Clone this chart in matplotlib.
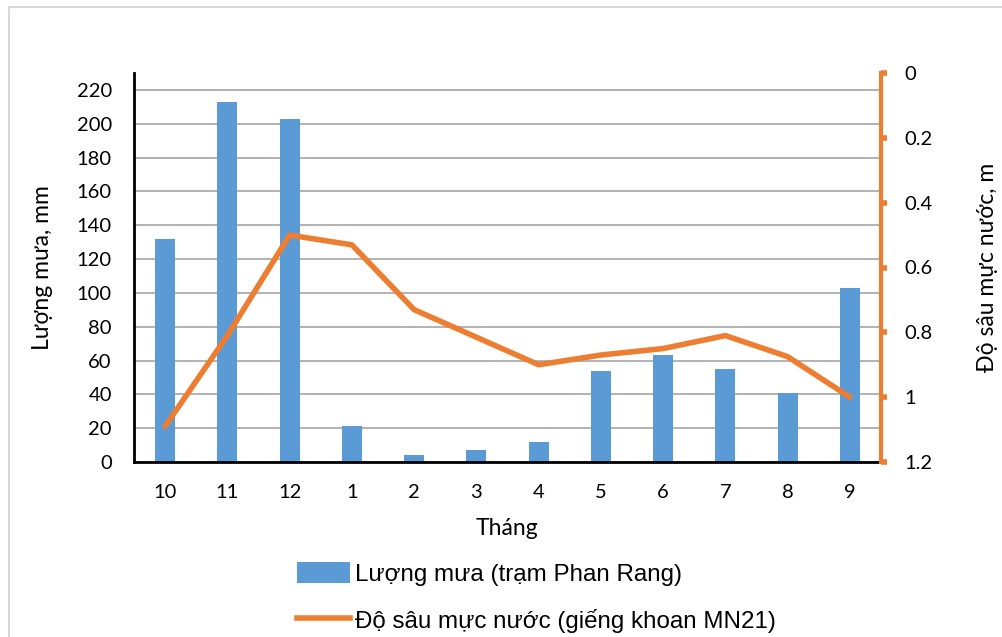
import numpy as np
import matplotlib.pyplot as plt
from matplotlib.patches import Rectangle
from matplotlib.lines import Line2D
from matplotlib.patches import Patch

months = ["10", "11", "12", "1", "2", "3", "4", "5", "6", "7", "8", "9"]
rain = [132, 213, 203, 21, 4, 7, 12, 54, 63, 55, 41, 103]
depth = [1.09, 0.81, 0.50, 0.53, 0.73, 0.815, 0.90, 0.87, 0.85, 0.81, 0.875, 1.0]
left_ticks = [0, 20, 40, 60, 80, 100, 120, 140, 160, 180, 200, 220]
right_ticks = [0, 0.2, 0.4, 0.6, 0.8, 1, 1.2]
right_labels = ["0", "0.2", "0.4", "0.6", "0.8", "1", "1.2"]

blue = "#5b9bd5"
orange = "#ed7d31"

plt.rcParams['font.family'] = ['Lato', 'DejaVu Sans']

fig = plt.figure(figsize=(10.03, 6.37), dpi=100)
fig.patches.append(Rectangle((9 / 1003, -0.1), 1.2, 1 - 7 / 637 + 0.1, transform=fig.transFigure,
                             fill=False, edgecolor="#d9d9d9", lw=1.5))

ax = fig.add_axes([134 / 1003, 1 - 462 / 637, (881 - 134) / 1003, (462 - 73) / 637])
x = np.arange(len(months))
ax.bar(x, rain, width=0.32, color=blue, zorder=2)
ax.set_xlim(-0.5, len(months) - 0.5)
ax.set_ylim(0, 230)
ax.set_yticks(left_ticks)
ax.set_xticks(x)
ax.set_xticklabels(months)
ax.grid(axis="y", color="#a6a6a6", lw=1.2, zorder=0)
ax.tick_params(axis="y", length=0, labelsize=14.5, pad=16)
ax.tick_params(axis="x", length=0, labelsize=14.5, pad=16)
for s in ["top", "right"]:
    ax.spines[s].set_visible(False)
for s in ["left", "bottom"]:
    ax.spines[s].set_linewidth(2)
    ax.spines[s].set_color("black")
ax.set_ylabel("Lượng mưa, mm", fontsize=16.5, labelpad=17)
ax.set_xlabel("Tháng", fontsize=16.5, labelpad=12)

ax2 = ax.twinx()
ax2.plot(x, depth, color=orange, lw=4, solid_capstyle="round", zorder=3)
ax2.set_ylim(1.2, 0)
ax2.set_yticks(right_ticks)
ax2.set_yticklabels(right_labels)
ax2.tick_params(axis="y", length=4, width=4, color=orange, labelsize=14.5, pad=13)
for s in ["top", "left", "bottom"]:
    ax2.spines[s].set_visible(False)
ax2.spines["right"].set_color(orange)
ax2.spines["right"].set_linewidth(3)
ax2.set_ylabel("Độ sâu mực nước, m", fontsize=16.5, labelpad=32)

handles = [Patch(facecolor=blue, edgecolor="none"),
           Line2D([0], [0], color=orange, lw=4)]
labels = ["Lượng mưa (trạm Phan Rang)", "Độ sâu mực nước (giếng khoan MN21)"]
fig.legend(handles, labels, loc="upper left", bbox_to_anchor=(275 / 1003, 1 - 540 / 637),
           frameon=False, ncol=1, handlelength=2.2, handleheight=1.0, handletextpad=0.2,
           labelspacing=0.95, prop={"family": ["Liberation Sans", "DejaVu Sans"], "size": 17.4})

fig.savefig("out.png", dpi=100)
